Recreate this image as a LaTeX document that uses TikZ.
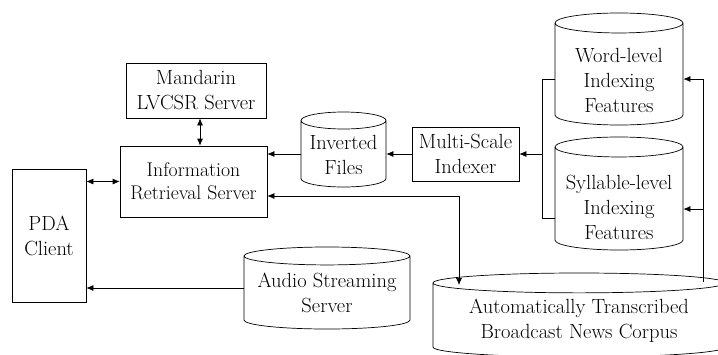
\documentclass[tikz,border=0pt]{standalone}
\usetikzlibrary{shapes.geometric,arrows.meta}
\tikzset{>={Latex[length=7pt,width=6pt]}}
\tikzset{
  bx/.style={draw, align=center, inner sep=0pt},
  cyl/.style={draw, cylinder, shape border rotate=90, inner sep=0pt, anchor=shape center},
  txt/.style={align=center, inner sep=0pt},
}

\begin{document}
\begin{tikzpicture}[x=1pt, y=-1pt, line width=0.7pt, font=\fontsize{20.5}{25}\selectfont]
    \useasboundingbox (0,0) rectangle (718,354);
    \node[bx, minimum width=74, minimum height=133] (pda) at (49,235.5) {PDA\\Client};
    \node[bx, minimum width=140, minimum height=55] (mand) at (196,90.5) {Mandarin\\LVCSR Server};
    \node[bx, minimum width=147, minimum height=71, font=\fontsize{19.8}{23}\selectfont] (ir) at (193.5,181.5) {Information\\Retrieval Server};
    \node[bx, minimum width=107, minimum height=54] (idx) at (465.5,154) {Multi-Scale\\Indexer};
    % cylinders (width given by the empty box), text put on top
    \node[cyl, minimum height=75, aspect=0.2] (inv) at (343.5,149.5) {\hspace*{85pt}};
    \node[txt] (invt) at (343.5,155) {Inverted\\Files};
    \node[cyl, minimum height=112, aspect=0.156] (word) at (619,69) {\hspace*{128pt}};
    \node[txt] (wordt) at (619,80) {Word-level\\Indexing\\Features};
    \node[cyl, minimum height=113, aspect=0.156] (syl) at (619,193.5) {\hspace*{128pt}};
    \node[txt] (sylt) at (619,207) {Syllable-level\\Indexing\\Features};
    \node[cyl, minimum height=82, aspect=0.108] (aud) at (327,288) {\hspace*{166pt}};
    \node[txt] (audt) at (327,293) {Audio Streaming\\Server};
    \node[cyl, minimum height=84, aspect=0.068] (corp) at (579,315) {\hspace*{292pt}};
    \node[txt] (corpt) at (579,321) {Automatically Transcribed\\Broadcast News Corpus};
    % links
    \draw[<->] (pda.east |- ir.west) -- (ir.west);
    \draw[<->] ([xshift=4]mand.south) -- ([xshift=4]mand.south |- ir.north);
    \draw[->] (idx.west) -- (idx.west -| inv.east);
    \draw[->] (idx.west -| inv.west) -- (idx.west -| ir.east);
    \draw[->] (aud.west |- 0,288) -- (pda.east |- 0,288);
    \coordinate (wl) at (542,79);
    \coordinate (sl) at (542,218);
    \draw (wl -| word.west) -- (wl) -- (sl) -- (sl -| syl.west);
    \draw[->] (wl |- idx.east) -- (idx.east);
    \coordinate (wr) at (703,79);
    \coordinate (sr) at (703,209);
    \coordinate (cr) at (703,282);
    \draw[->] (cr) -- (wr) -- (wr -| word.east);
    \draw[->] (sr) -- (sr -| syl.east);
    \coordinate (ic) at (459,196);
    \coordinate (ct) at (459,285);
    \draw[<->] (ic -| ir.east) -- (ic) -- (ct);
\end{tikzpicture}
\end{document}
